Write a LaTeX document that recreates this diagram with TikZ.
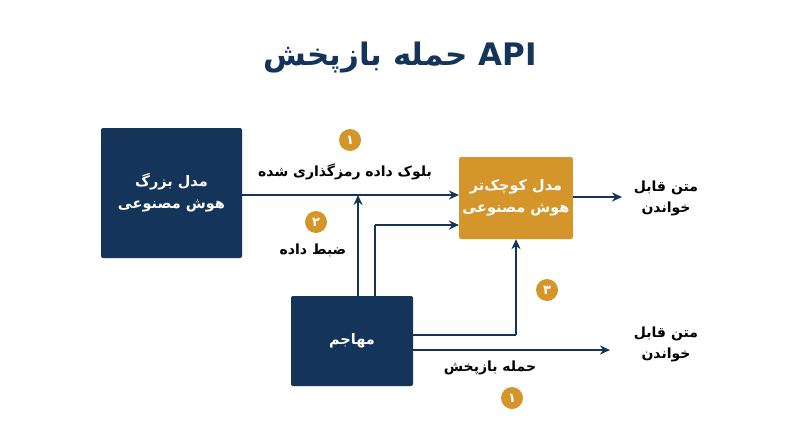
\documentclass[tikz,border=0pt]{standalone}
\usepackage{fontspec}
\setmainfont{DejaVu Sans}
\newfontfamily\ar[Script=Arabic]{DejaVu Sans}
\TeXXeTstate=1
\newcommand{\fa}[1]{{\ar\beginR #1\endR}}
\usetikzlibrary{arrows.meta}
\definecolor{navy}{HTML}{15345A}
\definecolor{gold}{HTML}{D4962A}
\begin{document}
\begin{tikzpicture}[x=1pt,y=-1pt,
 box/.style={draw=none,fill=navy,text=white,font=\bfseries\fontsize{14.5}{22}\selectfont,align=center,rounded corners=2pt},
 lab/.style={text=black,font=\bfseries\fontsize{14}{21}\selectfont,align=center},
 num/.style={circle,fill=gold,text=white,minimum size=22pt,inner sep=0pt,font=\bfseries\fontsize{13}{13}\selectfont},
 arr/.style={draw=navy,line width=2pt,-{Stealth[length=10pt,width=9pt]}},
 ln/.style={draw=navy,line width=2pt}]
\useasboundingbox (0,0) rectangle (800,447);
\fill[white] (0,0) rectangle (800,447);
\node[text=navy,font=\bfseries\fontsize{31}{33}\selectfont] (title) at (400,58) {\fa{حمله بازپخش}~API};
\node[box,minimum width=141pt,minimum height=130pt] (big) at (171.5,193) {\fa{مدل بزرگ}\\\fa{هوش مصنوعی}};
\node[box,fill=gold,minimum width=112pt,minimum height=82pt] (small) at (516,198) {\fa{مدل کوچک‌تر}\\\fa{هوش مصنوعی}};
\node[box,minimum width=122pt,minimum height=90pt] (att) at (352,341) {\fa{مهاجم}};
\coordinate (t1) at (358,195);
\coordinate (c2) at (375,225);
\coordinate (c3) at (516,335);
\coordinate (e1) at (622,197);
\coordinate (e2) at (610,350);
\draw[arr] (big.east |- 0,195) -- (small.west |- 0,195);
\draw[arr] (att.north -| t1) -- (t1);
\draw[ln] (att.north -| c2) -- (c2);
\draw[arr] (c2) -- (small.west |- c2);
\draw[ln] (att.east |- c3) -- (c3);
\draw[arr] (c3) -- (small.south -| c3);
\draw[arr] (att.east |- e2) -- (e2);
\draw[arr] (small.east |- e1) -- (e1);
\node[lab] (l1) at (345,172) {\fa{بلوک داده رمزگذاری شده}};
\node[num] (n1) at (350,140) {\fa{۱}};
\node[lab] (l2) at (313,250) {\fa{ضبط داده}};
\node[num] (n2) at (316,222) {\fa{۲}};
\node[num] (n3) at (547,290) {\fa{۳}};
\node[lab] (l4) at (490,368) {\fa{حمله بازپخش}};
\node[num] (n4) at (512,398) {\fa{۱}};
\node[lab] (o1) at (666,198) {\fa{متن قابل}\\\fa{خواندن}};
\node[lab] (o2) at (666,344) {\fa{متن قابل}\\\fa{خواندن}};
\end{tikzpicture}
\end{document}
